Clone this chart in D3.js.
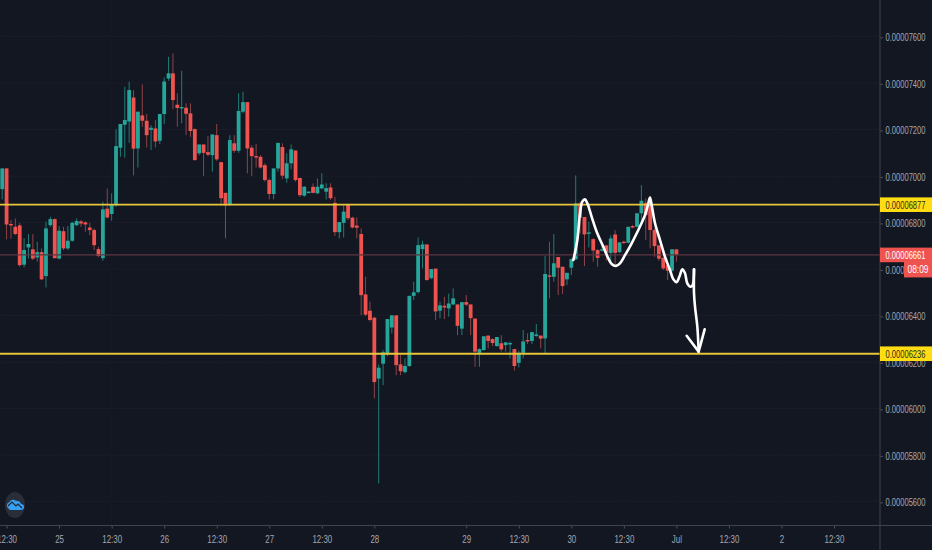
<!DOCTYPE html>
<html>
<head>
<meta charset="utf-8">
<style>
  html, body { margin: 0; padding: 0; background: #131722; overflow: hidden; }
  text { font-family: "Liberation Sans", sans-serif; }
</style>
<script src="https://cdn.jsdelivr.net/npm/d3@7"></script>
</head>
<body>
<div id="wrapper"></div>
<script>
// prices are in units of 0.00000001, one bar per hour
const opens = [6944,7033,6794,6782,6788,6619,6693,6685,6650,6673,6570,6789,6815,6645,6763,6689,6722,6789,6805,6801,6779,6768,6686,6647,6860,6837,6875,7122,7221,7235,7338,7119,7261,7238,7199,7205,7152,7267,7420,7442,7307,7293,7294,7270,7202,7098,7136,7103,7090,7176,7060,6928,6880,7141,7109,7277,7318,7122,7086,7083,7047,6983,6923,7033,7125,6990,7055,7110,6992,6916,6928,6954,6926,6947,6933,6951,6885,6759,6799,6877,6821,6787,6751,6491,6421,6391,6129,6193,6233,6349,6401,6190,6157,6183,6485,6501,6686,6706,6561,6602,6421,6442,6431,6448,6448,6344,6458,6448,6387,6240,6252,6314,6299,6269,6281,6273,6279,6256,6197,6240,6295,6291,6312,6314,6302,6573,6567,6652,6610,6556,6606,6642,6883,6824,6752,6729,6682,6680,6702,6670,6749,6673,6718,6713,6785,6782,6840,6885,6880,6768,6702,6649,6617,6593,6685]
const highs = [7033,7033,6811,6818,6799,6732,6751,6751,6718,6689,6804,6825,6818,6785,6782,6785,6804,6818,6811,6806,6799,6775,6696,6890,6947,6926,7201,7224,7384,7406,7370,7277,7394,7267,7219,7241,7267,7424,7513,7528,7356,7453,7313,7313,7205,7136,7136,7172,7179,7224,7060,6928,7176,7176,7356,7363,7318,7133,7138,7090,7055,6990,7033,7143,7141,7098,7136,7110,6992,6957,6935,6969,6990,7012,6969,6969,6911,6802,6875,6877,6825,6822,6775,6567,6460,6395,6190,6252,6385,6401,6401,6230,6216,6485,6546,6736,6722,6706,6600,6602,6460,6481,6495,6517,6448,6458,6488,6448,6388,6259,6311,6314,6302,6308,6316,6285,6288,6256,6249,6338,6324,6329,6364,6314,6656,6718,6751,6652,6610,6584,6646,7003,6890,6824,6804,6732,6686,6703,6702,6746,6768,6715,6722,6782,6790,6840,6961,6904,6911,6775,6702,6649,6617,6685,6685]
const lows = [6900,6728,6731,6746,6610,6607,6646,6639,6632,6553,6521,6782,6646,6642,6682,6682,6718,6785,6782,6761,6746,6682,6653,6636,6818,6808,6868,7083,7080,7143,7003,7037,7212,7123,7112,7123,7138,7224,7410,7287,7212,7227,7176,7169,7066,7090,7001,7086,7019,7066,6871,6732,6871,7100,7100,7270,7012,7000,7037,7033,6976,6900,6900,7019,6987,6971,7029,6976,6911,6911,6926,6926,6923,6943,6900,6897,6742,6732,6736,6811,6775,6732,6402,6398,6374,6044,5678,6101,6225,6323,6144,6144,6151,6180,6467,6495,6603,6550,6556,6381,6388,6385,6395,6445,6316,6316,6441,6316,6180,6180,6249,6259,6269,6266,6245,6245,6216,6163,6177,6216,6278,6278,6309,6259,6238,6474,6546,6488,6493,6531,6574,6639,6754,6613,6693,6632,6610,6675,6636,6625,6622,6670,6708,6711,6775,6779,6797,6725,6689,6653,6636,6596,6553,6590,6632]
const closes = [7033,6792,6788,6751,6617,6682,6708,6645,6673,6556,6775,6815,6647,6765,6689,6722,6799,6807,6796,6792,6768,6703,6656,6857,6822,6880,7129,7224,7241,7370,7118,7277,7238,7176,7208,7149,7267,7407,7442,7327,7293,7297,7268,7194,7069,7136,7100,7092,7179,7072,6905,6874,7155,7109,7280,7318,7119,7086,7080,7037,6983,6923,7033,7143,7002,7055,7115,6983,6918,6954,6933,6928,6954,6964,6948,6905,6759,6802,6847,6819,6779,6778,6488,6404,6381,6114,6176,6242,6385,6401,6187,6161,6183,6485,6500,6703,6706,6553,6600,6418,6444,6435,6452,6474,6356,6458,6447,6389,6245,6256,6311,6291,6282,6308,6255,6285,6282,6183,6240,6289,6289,6329,6319,6301,6579,6567,6625,6606,6527,6584,6643,6883,6822,6749,6758,6680,6648,6685,6670,6732,6670,6715,6712,6782,6779,6840,6894,6832,6768,6699,6645,6603,6593,6685,6661]

// hand drawn double top and arrow, in bar / price terms
const strokeBars = [130.46,131.37,131.98,132.51,133.12,133.65,134.64,135.78,137.31,138.45,139.21,140.2,141.11,142.26,143.78,145.3,146.82,147.59,147.97,148.35,149.11,150.25,151.39,152.53,153.3,154.06,154.67,155.35,155.96,156.49,157.25,157.71,158.02]
const strokePrices = [6639,6725,6840,6890,6900,6883,6825,6761,6696,6646,6622,6614,6625,6660,6711,6768,6832,6883,6908,6875,6797,6725,6653,6596,6556,6544,6567,6599,6582,6539,6524,6531,6599]
const shaftBars = [158.02,158.02,158.25,158.78,159.08]
const shaftPrices = [6599,6496,6438,6352,6245]
const headBars = [156.34,159.08,160.45]
const headPrices = [6313,6245,6341]

const priceTicks = [5600,5800,6000,6200,6400,6600,6800,7000,7200,7400,7600]
const timeTickBars = [1,13,25,37,49,61,73,85,106,118,130,142,154,166,178,190]
const timeTickLabels = ["12:30","25","12:30","26","12:30","27","12:30","28","29","12:30","30","12:30","Jul","12:30","2","12:30"]
const levels = [6877,6236]
const lastPrice = 6661
const countdown = "08:09"

function drawChart() {
  const dimensions = {
    width: 932,
    height: 550,
    axisX: 880,
    axisY: 525.5,
  }
  const fmt = d => (d * 1e-8).toFixed(8)
  // the chart font is narrower than anything installed, so squeeze the text
  const squeeze = (sel, k) => sel.each(function () {
    const x = +this.getAttribute("x") || 0
    this.setAttribute("x", 0)
    this.setAttribute("transform", `translate(${x}, 0) scale(${k}, 1)`)
  })

  const wrapper = d3.select("#wrapper")
    .append("svg")
    .attr("width", dimensions.width)
    .attr("height", dimensions.height)
    .style("display", "block")

  wrapper.append("rect")
    .attr("width", dimensions.width)
    .attr("height", dimensions.height)
    .attr("fill", "#131722")

  // scales
  const xScale = d3.scaleLinear()
    .domain([0, 200])
    .range([2.2, 2.2 + 4.378 * 200])
  const yScale = d3.scaleLinear()
    .domain([6400, 6800])
    .range([315.6, 222.6])

  // grid
  const grid = wrapper.append("g")
  grid.selectAll("line.h")
    .data(priceTicks)
    .join("line")
    .attr("class", "h")
    .attr("x1", 0)
    .attr("x2", dimensions.axisX)
    .attr("y1", d => yScale(d))
    .attr("y2", d => yScale(d))
    .attr("stroke", "#191d29")
  grid.selectAll("line.v")
    .data(timeTickBars)
    .join("line")
    .attr("class", "v")
    .attr("x1", d => xScale(d))
    .attr("x2", d => xScale(d))
    .attr("y1", 0)
    .attr("y2", dimensions.axisY)
    .attr("stroke", "#161a25")

  // candles
  const up = i => closes[i] >= opens[i]
  const bounds = wrapper.append("g")
  const bars = bounds.selectAll("g")
    .data(d3.range(opens.length))
    .join("g")
  bars.append("line")
    .attr("x1", i => xScale(i))
    .attr("x2", i => xScale(i))
    .attr("y1", i => yScale(highs[i]))
    .attr("y2", i => yScale(lows[i]))
    .attr("stroke", i => up(i) ? "#1f7d78" : "#8f4347")
    .attr("stroke-width", 1)
  bars.append("rect")
    .attr("x", i => xScale(i) - 1.9)
    .attr("width", 3.8)
    .attr("y", i => yScale(Math.max(opens[i], closes[i])))
    .attr("height", i => Math.max(1.4, Math.abs(yScale(opens[i]) - yScale(closes[i]))))
    .attr("fill", i => up(i) ? "#26a69a" : "#ef5350")

  // last price line and support / resistance levels
  wrapper.append("line")
    .attr("x1", 0)
    .attr("x2", dimensions.axisX)
    .attr("y1", yScale(lastPrice))
    .attr("y2", yScale(lastPrice))
    .attr("stroke", "#5f3542")
    .attr("stroke-width", 1.4)
  wrapper.selectAll("line.level")
    .data(levels)
    .join("line")
    .attr("class", "level")
    .attr("x1", 0)
    .attr("x2", dimensions.axisX)
    .attr("y1", d => yScale(d))
    .attr("y2", d => yScale(d))
    .attr("stroke", "#e6c63a")
    .attr("stroke-width", 1.8)

  // hand drawing
  const line = d3.line().x(d => xScale(d[0])).y(d => yScale(d[1]))
  const drawing = wrapper.append("g")
    .attr("fill", "none")
    .attr("stroke", "#ffffff")
    .attr("stroke-width", 2.6)
    .attr("stroke-linecap", "round")
    .attr("stroke-linejoin", "round")
  drawing.append("path")
    .attr("d", line.curve(d3.curveCatmullRom)(d3.zip(strokeBars, strokePrices)))
  drawing.append("path")
    .attr("d", line.curve(d3.curveCatmullRom)(d3.zip(shaftBars, shaftPrices)))
  drawing.append("path")
    .attr("d", line.curve(d3.curveLinear)(d3.zip(headBars, headPrices)))

  // axes
  const yAxis = d3.axisRight(yScale)
    .tickValues(priceTicks)
    .tickFormat(fmt)
    .tickSize(3)
    .tickPadding(2.5)
  const yAxisG = wrapper.append("g")
    .attr("transform", `translate(${dimensions.axisX}, 0.8)`)
    .call(yAxis)
  yAxisG.select(".domain").remove()
  yAxisG.selectAll(".tick line").attr("stroke", "#4a4e59")
  yAxisG.selectAll("text")
    .attr("fill", "#a3a6af")
    .attr("font-size", 10.6)
    .call(squeeze, 0.715)

  const xAxis = d3.axisBottom(xScale)
    .tickValues(timeTickBars)
    .tickFormat((d, i) => timeTickLabels[i])
    .tickSize(3)
    .tickPadding(7)
  const xAxisG = wrapper.append("g")
    .attr("transform", `translate(0, ${dimensions.axisY})`)
    .call(xAxis)
  xAxisG.select(".domain").remove()
  xAxisG.selectAll(".tick line").attr("stroke", "#4a4e59")
  xAxisG.selectAll("text")
    .attr("fill", "#a3a6af")
    .attr("font-size", 11)
    .call(squeeze, 0.72)

  // axis borders
  wrapper.append("line")
    .attr("x1", 0).attr("x2", dimensions.width)
    .attr("y1", dimensions.axisY).attr("y2", dimensions.axisY)
    .attr("stroke", "#3f434f")
  wrapper.append("line")
    .attr("x1", dimensions.axisX).attr("x2", dimensions.axisX)
    .attr("y1", 0).attr("y2", dimensions.height)
    .attr("stroke", "#3f434f")

  // price tags on the axis
  const tag = (price, bg, fg) => {
    const yy = yScale(price)
    wrapper.append("rect")
      .attr("x", dimensions.axisX)
      .attr("y", yy - 7.3)
      .attr("width", 52)
      .attr("height", 14.6)
      .attr("fill", bg)
    wrapper.append("text")
      .attr("x", dimensions.axisX + 5.5)
      .attr("y", yy + 0.5)
      .attr("dy", "0.32em")
      .attr("font-size", 10.6)
      .attr("fill", fg)
      .text(fmt(price))
      .call(squeeze, 0.715)
  }
  levels.forEach(d => tag(d, "#ffdd12", "#2a2a1c"))
  tag(lastPrice, "#ef5350", "#ffffff")

  wrapper.append("rect")
    .attr("x", 904)
    .attr("y", yScale(lastPrice) + 6.5)
    .attr("width", 28)
    .attr("height", 16)
    .attr("fill", "#ef5350")
  wrapper.append("text")
    .attr("x", 918)
    .attr("y", yScale(lastPrice) + 14.5)
    .attr("dy", "0.32em")
    .attr("text-anchor", "middle")
    .attr("font-size", 10.5)
    .attr("fill", "#ffffff")
    .text(countdown)
    .call(squeeze, 0.8)

  // logo badge
  const logo = wrapper.append("g").attr("transform", "translate(15, 505)")
  logo.append("ellipse").attr("rx", 10).attr("ry", 13).attr("fill", "#2a2e39")
  logo.append("path")
    .attr("d", "M-7,3 A3.5,3.5 0 0 1 -5.5,-3 A4,4 0 0 1 1,-4 A4,4 0 0 1 6,-1 A2.6,2.6 0 0 1 6,5 L-5,5 Z")
    .attr("fill", "#35a0f4")
  logo.append("path")
    .attr("d", "M-7,1 L-3,-3 L1,1 L3,-1 L7,3")
    .attr("fill", "none")
    .attr("stroke", "#20242f")
    .attr("stroke-width", 1.1)
}

drawChart()
</script>
</body>
</html>
